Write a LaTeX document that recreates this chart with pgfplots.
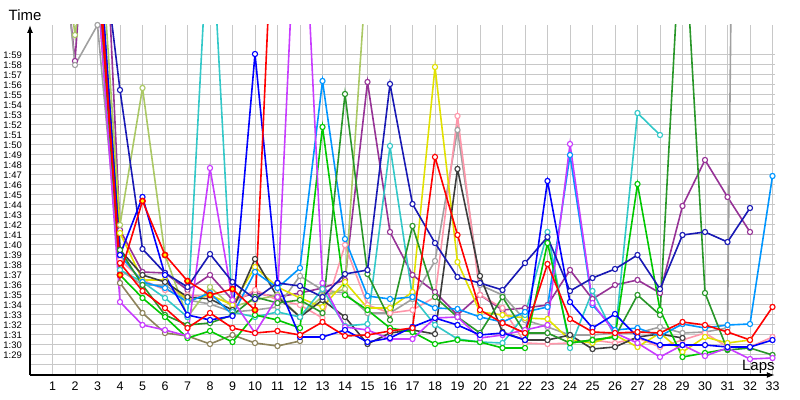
\documentclass[border=0pt]{standalone}
\usepackage{pgfplots}
\pgfplotsset{compat=1.18}
\usetikzlibrary{arrows.meta}
\usepackage{fontspec}
\setmainfont{Liberation Sans}
\definecolor{cRY}{RGB}{255,0,0}
\definecolor{cR}{RGB}{255,0,0}
\definecolor{cB}{RGB}{0,0,255}
\definecolor{cN}{RGB}{25,25,180}
\definecolor{cAz}{RGB}{0,150,255}
\definecolor{cTq}{RGB}{50,200,200}
\definecolor{cG}{RGB}{0,200,0}
\definecolor{cF}{RGB}{40,150,40}
\definecolor{cYG}{RGB}{170,200,100}
\definecolor{cY}{RGB}{225,225,0}
\definecolor{cP}{RGB}{150,50,150}
\definecolor{cV}{RGB}{200,60,255}
\definecolor{cPk}{RGB}{255,150,170}
\definecolor{cGy}{RGB}{160,160,160}
\definecolor{cDk}{RGB}{60,60,60}
\definecolor{cOl}{RGB}{140,130,90}
\definecolor{gridc}{RGB}{200,200,200}
\pgfplotsset{lap/.style={line width=1.6bp, mark=*, mark size=2.6bp, mark options={fill=white, line width=1.1bp, solid}}}
\begin{document}
\begin{tikzpicture}
\begin{axis}[
  at={(30bp,25bp)}, anchor=south west,
  scale only axis, width=744.75bp, height=350bp,
  xmin=0, xmax=33.1, ymin=87, ymax=122,
  enlargelimits=false,
  axis lines=left,
  axis line style={-{Latex[length=8bp,width=6bp]}, line width=1.3bp, black},
  xtick={1,...,33},
  ytick={88,...,119},
  yticklabels={,1:29,1:30,1:31,1:32,1:33,1:34,1:35,1:36,1:37,1:38,1:39,1:40,1:41,1:42,1:43,1:44,1:45,1:46,1:47,1:48,1:49,1:50,1:51,1:52,1:53,1:54,1:55,1:56,1:57,1:58,1:59},
  /pgf/number format/assume math mode=true,
  major tick length=0pt,
  grid=major,
  major grid style={draw=gridc, line width=1bp},
  xticklabel style={font=\fontsize{12.5}{14}\selectfont, inner sep=0pt, yshift=-7bp},
  yticklabel style={font=\fontsize{9.5}{11}\selectfont, inner sep=0pt, xshift=-8bp},
  ylabel={Time},
  ylabel style={rotate=-90, at={(rel axis cs:0,1)}, anchor=base, yshift=4bp, xshift=-5bp, font=\fontsize{15}{17}\selectfont, inner sep=0pt},
  xlabel={Laps},
  xlabel style={at={(rel axis cs:1,0)}, anchor=base east, yshift=5bp, font=\fontsize{15}{17}\selectfont, inner sep=0pt},
]
% olive
\addplot[lap, color=cOl] coordinates {(3,126)(4,96.2)(5,93.2)(6,91.2)(7,90.9)(8,90.1)(9,91)(10,90.2)(11,89.9)(12,90.4)};
% purple
\addplot[lap, color=cP] coordinates {(1,140)(2,118.4)(3,150)(4,101.5)(5,97.3)(6,97.2)(7,95.5)(8,97)(9,94.5)(10,95.2)(11,94.8)(12,95.2)(13,95.7)(14,96.5)(15,116.3)(16,101.3)(17,97)(18,95.3)(19,93)(20,95)(21,93.5)(22,93.7)(23,94)(24,97.5)(25,94.6)(26,96)(27,96.5)(28,95.2)(29,103.9)(30,108.5)(31,104.8)(32,101.3)};
% gray
\addplot[lap, color=cGy] coordinates {(1,140)(2,118)(3,122)(4,97.5)(5,96)(6,96)(7,94.5)(8,94.1)(9,93.3)(10,93.5)(11,93.8)(12,96.9)(13,95.5)(14,95.2)(15,93.2)(16,93.2)(17,94.6)(18,98.4)(19,111.5)(20,96)(21,95)(22,92.5)(23,91.8)(24,91)(25,91)(26,91.2)(27,91.2)(28,91.8)(29,91.2)(30,91.3)(31,91.7)(32,300)};
% pink
\addplot[lap, color=cPk] coordinates {(3,127)(4,98.5)(5,96.5)(6,95.5)(7,95)(8,94.8)(9,94.2)(10,95.5)(11,94.5)(12,94)(13,92.7)(14,100)(15,94)(16,93.2)(17,93.5)(18,94.8)(19,112.9)(20,95)(21,93.7)(22,90.2)(23,90.1)(24,90.2)(25,90.5)(26,90.2)(27,90.7)(28,89.8)(29,90.5)(30,91.2)(31,89.8)(32,89.8)(33,90.8)};
% yellow-green
\addplot[lap, color=cYG] coordinates {(1,140)(2,121)(3,135)(4,102)(5,115.7)(6,99)(7,92.8)(8,95.8)(9,93.8)(10,94.5)(11,95)(12,92.8)(13,94.9)(14,95.6)(15,129)};
% yellow
\addplot[lap, color=cY] coordinates {(3,130)(4,101.2)(5,96.5)(6,96.5)(7,94.5)(8,95)(9,94)(10,97.8)(11,95.8)(12,94.7)(13,93.8)(14,96.3)(15,93.7)(16,93.7)(17,95.3)(18,117.8)(19,98.3)(20,93.3)(21,93)(22,92.7)(23,92.6)(24,90.5)(25,90.2)(26,91)(27,89.8)(28,91.2)(29,89.3)(30,90.8)(31,90.2)(32,90.5)};
% dark
\addplot[lap, color=cDk] coordinates {(3,129)(4,99.5)(5,97)(6,96.3)(7,94.8)(8,94.6)(9,93.5)(10,98.6)(11,94.8)(12,92.8)(13,94.5)(14,92.8)(15,90.1)(16,91.2)(17,91.5)(18,91.1)(19,107.6)(20,96.9)(21,91.3)(22,90.5)(23,90.5)(24,91)(25,89.6)(26,89.8)(27,90.8)(28,91.1)(29,90.7)};
% turquoise
\addplot[lap, color=cTq] coordinates {(3,127)(4,97.5)(5,96.3)(6,94.7)(7,92.8)(8,135)(9,93.3)(10,92.8)(11,93.3)(12,92.8)(13,95.6)(14,91.9)(15,92.1)(16,109.9)(17,94.8)(18,92)(19,90.6)(20,90.3)(21,90.2)(22,93)(23,101.3)(24,89.7)(25,95.4)(26,90.8)(27,113.2)(28,111)};
% azure
\addplot[lap, color=cAz] coordinates {(3,129)(4,99)(5,96.3)(6,95.7)(7,94.3)(8,95.2)(9,93)(10,97.3)(11,95.7)(12,97.7)(13,116.4)(14,100.6)(15,94.9)(16,94.6)(17,94.8)(18,93.7)(19,93.6)(20,92.8)(21,92.3)(22,93.3)(23,93.8)(24,109)(25,94)(26,91.5)(27,91.7)(28,90.9)(29,92.1)(30,91.7)(31,92)(32,92.1)(33,106.9)};
% forest green
\addplot[lap, color=cF] coordinates {(3,131)(4,99.5)(5,96)(6,93)(7,92)(8,92.2)(9,93)(10,94.8)(11,94.2)(12,94.5)(13,93.2)(14,115.1)(15,97.1)(16,92.5)(17,101.9)(18,94.8)(19,92.8)(20,91.2)(21,94.8)(22,91.2)(23,91.2)(24,90.2)(25,90.5)(26,90.8)(27,95)(28,93)(29,135)(30,95.2)(31,89.5)(32,89.7)(33,89)};
% green
\addplot[lap, color=cG] coordinates {(3,128)(4,97)(5,94.7)(6,92.8)(7,90.7)(8,91.4)(9,90.3)(10,93)(11,92.5)(12,91.7)(13,111.8)(14,95)(15,93.5)(16,91.7)(17,91.3)(18,90.1)(19,90.5)(20,90.3)(21,89.7)(22,89.7)(23,100.2)(24,90.2)(25,90.5)(26,90.8)(27,106.1)(28,93.5)(29,88.8)(30,89.2)(31,89.6)};
% violet
\addplot[lap, color=cV] coordinates {(3,126)(4,94.3)(5,92)(6,91.5)(7,90.9)(8,107.7)(9,94.5)(10,91.2)(11,94.8)(12,143)(13,96.2)(14,91.8)(15,91.5)(16,90.6)(17,90.6)(18,92.7)(19,92.8)(20,90.7)(21,91)(22,91.5)(23,92)(24,110.1)(25,94.2)(26,91.2)(27,90.2)(28,88.8)(29,90)(30,88.9)(31,89.7)(32,88.6)(33,88.7)};
% navy
\addplot[lap, color=cN] coordinates {(3,134)(4,115.5)(5,99.6)(6,97.2)(7,95.8)(8,99.1)(9,96.3)(10,94.6)(11,96.2)(12,95.9)(13,94.8)(14,97.1)(15,97.5)(16,116.1)(17,104.1)(18,100.2)(19,96.8)(20,96.2)(21,95.5)(22,98.2)(23,100.8)(24,95.4)(25,96.7)(26,97.6)(27,99)(28,95.6)(29,101)(30,101.3)(31,100.3)(32,103.7)};
% blue
\addplot[lap, color=cB] coordinates {(3,132)(4,99)(5,104.8)(6,97)(7,93)(8,92.5)(9,92.9)(10,119.1)(11,96.2)(12,90.8)(13,90.8)(14,91.5)(15,90.3)(16,90.7)(17,91.8)(18,92.7)(19,92)(20,91)(21,91.2)(22,90.5)(23,106.4)(24,94.3)(25,91.7)(26,93.1)(27,90.8)(28,90)(29,90)(30,90)(31,89.8)(32,89.8)(33,90.5)};
% red
\addplot[lap, color=cR] coordinates {(3,128)(4,98.2)(5,95.4)(6,93.7)(7,91.7)(8,93.2)(9,91.7)(10,91.2)(11,91.4)(12,91)(13,92.3)(14,90.9)(15,91)(16,91.4)(17,91.7)(18,108.8)(19,101)(20,93.5)(21,92.2)(22,91.2)(23,98.1)(24,92.6)(25,91.3)(26,91.2)(27,91.3)(28,91.2)(29,92.3)(30,92)(31,91.3)(32,90.5)(33,93.8)};
% red with yellow markers
\addplot[lap, color=cRY, mark options={fill=yellow}] coordinates {(3,130)(4,97)(5,104.4)(6,99)(7,96.4)(8,95)(9,95.6)(10,93.5)(11,144)};
\end{axis}
\pgfresetboundingbox
\path (0,0) rectangle (800bp,400bp);
\end{tikzpicture}
\end{document}
